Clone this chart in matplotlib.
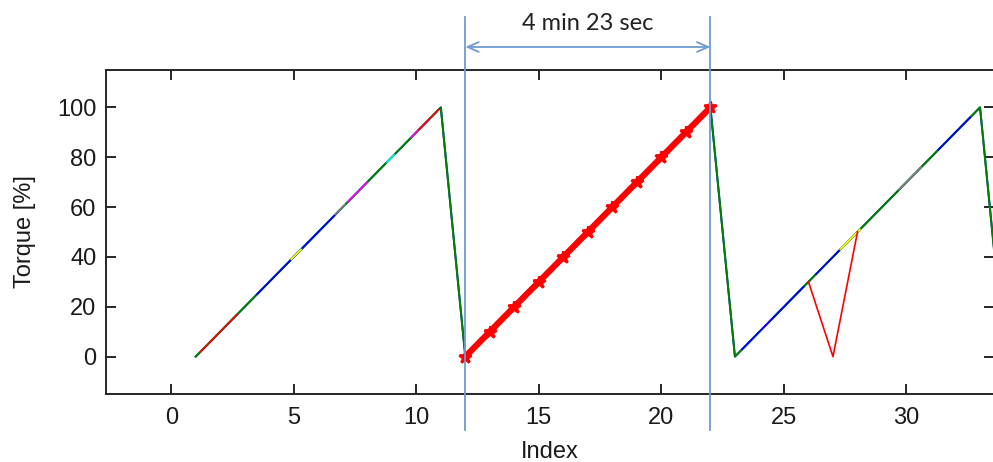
import matplotlib
matplotlib.use("Agg")
import matplotlib.pyplot as plt

# Torque trace sampled at each index: three ramps 0 -> 100 with resets in between
index = list(range(1, 35))
torque = [0, 10, 20, 30, 40, 50, 60, 70, 80, 90, 100,
          0, 10, 20, 30, 40, 50, 60, 70, 80, 90, 100,
          0, 10, 20, 30, 40, 50, 60, 70, 80, 90, 100,
          0]

# Highlighted cycle (one full ramp)
cycle_index = [12, 13, 14, 15, 16, 17, 18, 19, 20, 21, 22]
cycle_torque = [0, 10, 20, 30, 40, 50, 60, 70, 80, 90, 100]

# Dropout in a later cycle
dip_index = [26, 27, 28]
dip_torque = [30, 0, 50]

# Overlapping repeated runs showing through the main trace: (colour, x pair, y pair)
overlay_color = ["red", "blue", "yellow", "gray", "magenta", "cyan", "magenta", "red",
                 "magenta", "blue", "blue", "yellow", "gray", "blue"]
overlay_x = [(1.2, 2.7), (3.5, 6.8), (4.9, 5.3), (6.7, 7.1), (7.2, 8.0), (8.8, 9.1),
             (9.8, 10.5), (10.1, 10.9), (24.1, 24.5), (23.3, 25.8), (26.3, 27.3),
             (27.3, 28.1), (29.7, 30.6), (31.3, 32.6)]
overlay_y = [(2, 17), (25, 58), (39, 43), (57, 61), (62, 70), (78, 81),
             (88, 95), (91, 99), (11, 15), (3, 28), (33, 43),
             (43, 51), (67, 76), (83, 96)]

annotation_text = "4 min 23 sec"
marker_left, marker_right = 12, 22

W, H = 993, 462
fig = plt.figure(figsize=(W / 100, H / 100), dpi=100)
ax = fig.add_axes([106 / W, (H - 394) / H, 888 / W, 324 / H])

green = (0.0, 0.5, 0.0)
ax.plot(index, torque, color="blue", lw=1.3, zorder=2)
ax.plot(index, torque, color=green, lw=1.5, zorder=3)
for c, xs, ys in zip(overlay_color, overlay_x, overlay_y):
    ax.plot(xs, ys, color=c, lw=1.2, zorder=4)

ax.plot(dip_index, dip_torque, color="red", lw=1.2, zorder=4)
ax.plot(cycle_index, cycle_torque, color="red", lw=4.5, marker="*",
        ms=9, mew=2.0, zorder=5)

ax.set_xlim(-2.66, 33.57)
ax.set_ylim(-15, 115)
ax.set_xticks([0, 5, 10, 15, 20, 25, 30])
ax.set_yticks([0, 20, 40, 60, 80, 100])

font = ["Liberation Sans", "DejaVu Sans"]
spine_c = "#262626"
for s in ax.spines.values():
    s.set_linewidth(1.4)
    s.set_color(spine_c)
ax.tick_params(direction="in", length=7, width=1.4, color=spine_c,
               top=True, right=True, labelsize=17, labelcolor="#1a1a1a")
ax.tick_params(axis="x", pad=9)
ax.tick_params(axis="y", pad=7)
for lab in ax.get_xticklabels() + ax.get_yticklabels():
    lab.set_family(font)
ax.set_xlabel("Index", fontsize=17, family=font, color="#1a1a1a", labelpad=9)
ax.set_ylabel("Torque [%]", fontsize=17, family=font, color="#1a1a1a", labelpad=15)

# Cycle boundaries and duration annotation drawn above the axes
vcol = "#6f9bd1"
trans = ax.get_xaxis_transform()
for xv in (marker_left, marker_right):
    ax.plot([xv, xv], [-0.111, 1.164], transform=trans, color=vcol, lw=1.3,
            clip_on=False, zorder=6)
ax.annotate("", xy=(marker_right, 1.071), xytext=(marker_left, 1.071),
            xycoords=trans, textcoords=trans,
            arrowprops=dict(arrowstyle="<->,head_length=0.8,head_width=0.35",
                            color=vcol, lw=1.3, shrinkA=0, shrinkB=0))
ax.text((marker_left + marker_right) / 2, 1.145, annotation_text, transform=trans,
        ha="center", va="center", fontsize=17, family=["Lato", "DejaVu Sans"],
        color="#222222")

fig.savefig("out.png", dpi=100)
